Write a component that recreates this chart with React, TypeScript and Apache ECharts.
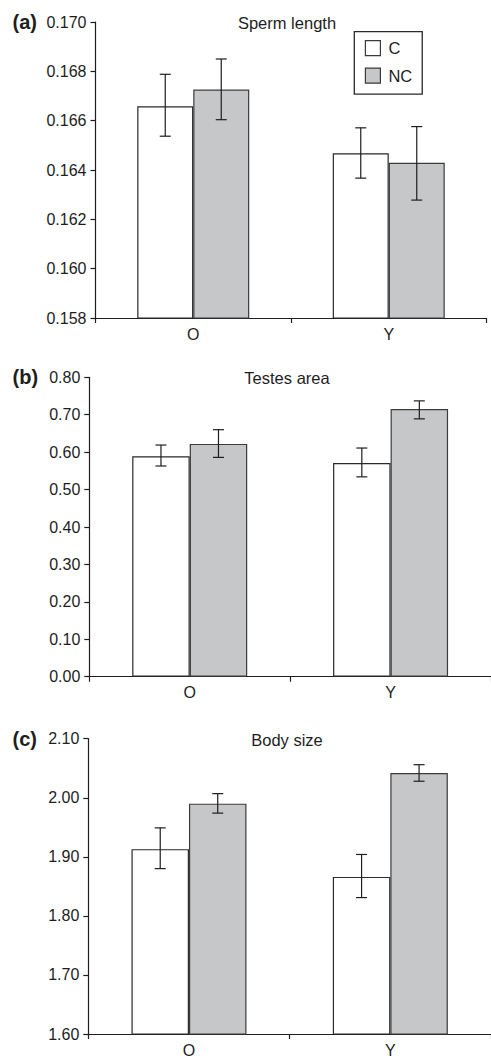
import React, { useEffect, useRef } from "react";
import * as echarts from "echarts";

const categories = ["O", "Y"];
const groupNames = ["C", "NC"];

// (a) Sperm length
const spermC = [0.16658, 0.16468];
const spermCErr = [[0.16537, 0.16788], [0.16367, 0.16571]];
const spermNC = [0.16726, 0.16429];
const spermNCErr = [[0.16604, 0.1685], [0.16278, 0.16576]];
const spermTicks = { min: 0.158, max: 0.17, interval: 0.002, decimals: 3 };

// (b) Testes area
const testesC = [0.589, 0.571];
const testesCErr = [[0.563, 0.619], [0.534, 0.611]];
const testesNC = [0.622, 0.715];
const testesNCErr = [[0.586, 0.66], [0.689, 0.737]];
const testesTicks = { min: 0, max: 0.8, interval: 0.1, decimals: 2 };

// (c) Body size
const bodyC = [1.913, 1.866];
const bodyCErr = [[1.88, 1.949], [1.831, 1.904]];
const bodyNC = [1.99, 2.042];
const bodyNCErr = [[1.974, 2.007], [2.028, 2.056]];
const bodyTicks = { min: 1.6, max: 2.1, interval: 0.1, decimals: 2 };

const panelTitles = ["Sperm length", "Testes area", "Body size"];
const panelLetters = ["(a)", "(b)", "(c)"];

const FONT = "'Liberation Sans', Arial, Helvetica, sans-serif";
const INK = "#1e1e1e";
const GREY = "#c6c7c9";

export default function App() {
  const ref = useRef<HTMLDivElement>(null);
  useEffect(() => {
    if (!ref.current) return;
    const chart = echarts.init(ref.current, null, { renderer: "svg" });

    const grids = [
      { left: 95.5, top: 22, width: 391, height: 296, barW: 56 },
      { left: 89.3, top: 377.3, width: 405.4, height: 299.4, barW: 57.5 },
      { left: 88.3, top: 738.7, width: 404.8, height: 296, barW: 57.5 },
    ];
    const ticks = [spermTicks, testesTicks, bodyTicks];
    const dataC = [spermC, testesC, bodyC];
    const dataNC = [spermNC, testesNC, bodyNC];
    const errC = [spermCErr, testesCErr, bodyCErr];
    const errNC = [spermNCErr, testesNCErr, bodyNCErr];

    const errRender = (offset: number) => (params: any, api: any) => {
      const lo = api.coord([api.value(0), api.value(1)]);
      const hi = api.coord([api.value(0), api.value(2)]);
      const cx = lo[0] + offset;
      const cap = 5.5;
      const style = { stroke: INK, lineWidth: 1.2 };
      return {
        type: "group",
        children: [
          { type: "line", shape: { x1: cx, y1: lo[1], x2: cx, y2: hi[1] }, style },
          { type: "line", shape: { x1: cx - cap, y1: lo[1], x2: cx + cap, y2: lo[1] }, style },
          { type: "line", shape: { x1: cx - cap, y1: hi[1], x2: cx + cap, y2: hi[1] }, style },
        ],
      };
    };

    const series: any[] = [];
    grids.forEach((g, i) => {
      series.push({
        type: "bar",
        name: groupNames[0],
        xAxisIndex: i,
        yAxisIndex: i,
        data: dataC[i],
        barWidth: g.barW,
        barGap: "0%",
        itemStyle: { color: "#ffffff", borderColor: "#2a2a2a", borderWidth: 1.2 },
      });
      series.push({
        type: "bar",
        name: groupNames[1],
        xAxisIndex: i,
        yAxisIndex: i,
        data: dataNC[i],
        barWidth: g.barW,
        barGap: "0%",
        itemStyle: { color: GREY, borderColor: "#3c3c3c", borderWidth: 1.2 },
      });
      series.push({
        type: "custom",
        xAxisIndex: i,
        yAxisIndex: i,
        z: 5,
        clip: false,
        renderItem: errRender(-g.barW / 2),
        encode: { x: 0, y: [1, 2] },
        data: errC[i].map((e, k) => [k, e[0], e[1]]),
      });
      series.push({
        type: "custom",
        xAxisIndex: i,
        yAxisIndex: i,
        z: 5,
        clip: false,
        renderItem: errRender(g.barW / 2),
        encode: { x: 0, y: [1, 2] },
        data: errNC[i].map((e, k) => [k, e[0], e[1]]),
      });
    });

    const graphics: any[] = [];
    grids.forEach((g, i) => {
      graphics.push({
        type: "text",
        x: 287,
        y: g.top + 1,
        style: {
          text: panelTitles[i],
          fill: INK,
          font: `16.5px ${FONT}`,
          align: "center",
          verticalAlign: "middle",
        },
      });
      graphics.push({
        type: "text",
        x: 12.5,
        y: g.top,
        style: {
          text: panelLetters[i],
          fill: INK,
          font: `bold 20px ${FONT}`,
          align: "left",
          verticalAlign: "middle",
        },
      });
    });

    chart.setOption({
      animation: false,
      backgroundColor: "#ffffff",
      textStyle: { fontFamily: FONT },
      grid: grids.map((g) => ({ left: g.left, top: g.top, width: g.width, height: g.height, containLabel: false })),
      xAxis: grids.map((g, i) => ({
        type: "category",
        gridIndex: i,
        data: categories,
        boundaryGap: true,
        axisLine: { onZero: false, lineStyle: { color: INK, width: 1.2 } },
        axisTick: { show: true, inside: false, length: 5, lineStyle: { color: INK, width: 1.2 } },
        axisLabel: { color: INK, fontSize: 16, margin: 8, fontFamily: FONT },
        splitLine: { show: false },
      })),
      yAxis: grids.map((g, i) => ({
        type: "value",
        gridIndex: i,
        min: ticks[i].min,
        max: ticks[i].max,
        interval: ticks[i].interval,
        axisLine: { show: true, lineStyle: { color: INK, width: 1.2 } },
        axisTick: { show: true, inside: false, length: 5, lineStyle: { color: INK, width: 1.2 } },
        axisLabel: {
          color: INK,
          fontSize: 16,
          margin: 9,
          fontFamily: FONT,
          formatter: (v: number) => v.toFixed(ticks[i].decimals),
        },
        splitLine: { show: false },
      })),
      legend: {
        data: groupNames,
        orient: "vertical",
        left: 354.3,
        top: 31.7,
        padding: [8, 10, 10, 10.5],
        itemWidth: 15,
        itemHeight: 15,
        itemGap: 10.5,
        icon: "rect",
        borderColor: "#2a2a2a",
        borderWidth: 1.3,
        itemStyle: { borderColor: "#3a3a3a", borderWidth: 1.2 },
        textStyle: { color: INK, fontSize: 16.5, fontFamily: FONT, padding: [0, 0, 0, 3] },
        selectedMode: false,
      },
      graphic: graphics,
      series,
    });

    return () => chart.dispose();
  }, []);

  return (
    <div
      ref={ref}
      style={{ position: "absolute", left: 0, top: 0, width: 491, height: 1058 }}
    />
  );
}
